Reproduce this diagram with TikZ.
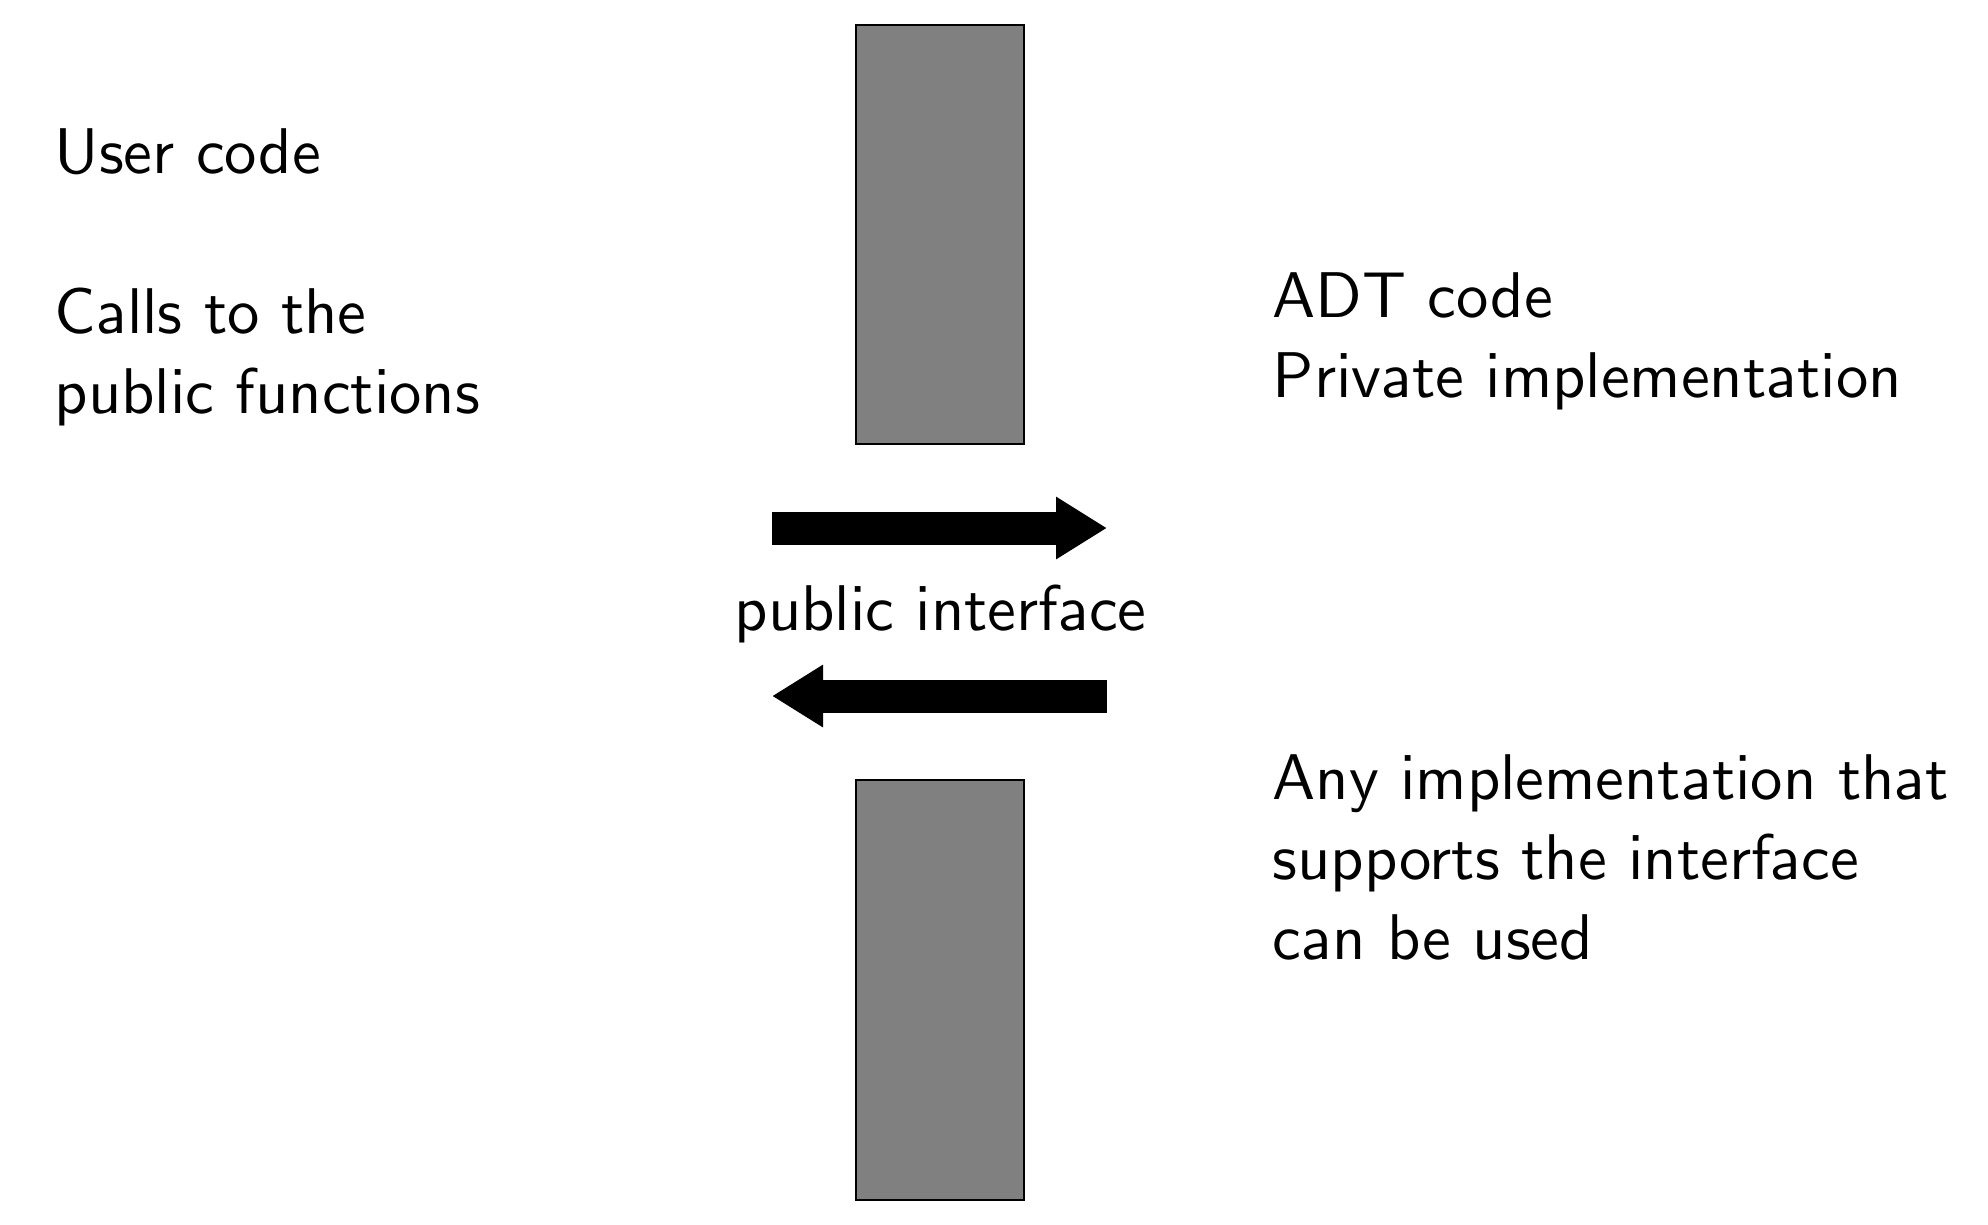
\documentclass[tikz,border=0pt]{standalone}
\usetikzlibrary{arrows.meta}
\font\adtfont=cmss10 at 16.15pt
\newcommand\adtsetup{\adtfont\baselineskip=20pt\relax}
\begin{document}
\begin{tikzpicture}[x=0.25pt,y=-0.25pt,
  bar/.style={draw=black,line width=0.5pt,fill=black!50,inner sep=0pt,minimum width=42pt},
  txt/.style={inner sep=0pt,anchor=base west,align=left,font=\adtsetup},
  bigarrow/.style={line width=8.25pt,-{Triangle[length=12.75pt,width=14.75pt]}}]
\useasboundingbox (0,0) rectangle (1988,1224);
\node[bar,minimum height=104.75pt] (topbar) at (940,234.5) {};
\node[bar,minimum height=105pt] (botbar) at (940,990) {};
\node[txt] (user) at (54,173) {User code};
\node[txt] (calls) at (54,413) {Calls to the\\public functions};
\node[txt] (adt) at (1272,397) {ADT code\\Private implementation};
\node[txt] (any) at (1272,959) {Any implementation that\\supports the interface\\can be used};
\node[inner sep=0pt,anchor=base,font=\adtfont] (pi) at (941,630) {public interface};
\coordinate (r1) at (772,528);
\coordinate (r2) at (1107,528);
\coordinate (l1) at (1107,696);
\coordinate (l2) at (772,696);
\draw[bigarrow] (r1) -- (r2);
\draw[bigarrow] (l1) -- (l2);
\end{tikzpicture}
\end{document}
